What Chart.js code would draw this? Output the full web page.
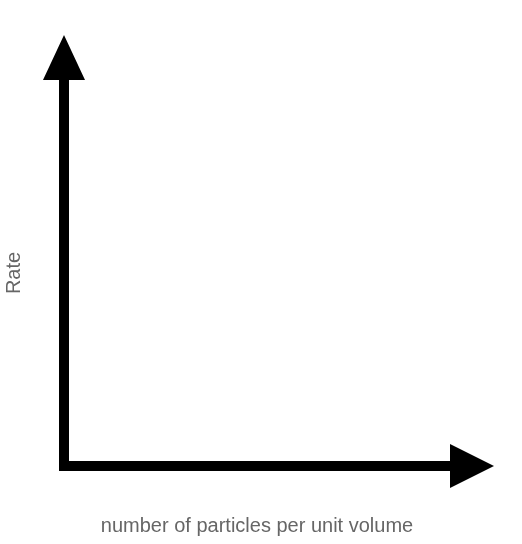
<!DOCTYPE html>
<html>
<head>
<meta charset="utf-8">
<script src="https://cdn.jsdelivr.net/npm/chart.js@4"></script>
<style>
  html, body { margin: 0; padding: 0; background: #fff; }
  #wrap { width: 522px; height: 544px; }
</style>
</head>
<body>
<div id="wrap"><canvas id="chart"></canvas></div>
<script>
// Axis labels and ranges (the chart has no data marks, only the two axes)
const xTitle = 'number of particles per unit volume';
const yTitle = 'Rate';
const xRange = [0, 1];
const yRange = [0, 1];

// Draws the thick axis lines and their arrowheads from the scales
const arrowAxes = {
  id: 'arrowAxes',
  afterDraw(chart) {
    const ctx = chart.ctx;
    const xs = chart.scales.x, ys = chart.scales.y;
    const x0 = xs.getPixelForValue(xRange[0]);
    const x1 = xs.getPixelForValue(xRange[1]);
    const y0 = ys.getPixelForValue(yRange[0]);
    const y1 = ys.getPixelForValue(yRange[1]);
    ctx.save();
    ctx.strokeStyle = '#000';
    ctx.fillStyle = '#000';
    ctx.lineWidth = 10;
    ctx.lineCap = 'square';
    ctx.beginPath();
    ctx.moveTo(x0, y1 + 5);
    ctx.lineTo(x0, y0);
    ctx.lineTo(x1 - 5, y0);
    ctx.stroke();
    // y arrowhead
    ctx.beginPath();
    ctx.moveTo(x0, y1 - 45);
    ctx.lineTo(x0 - 21, y1);
    ctx.lineTo(x0 + 21, y1);
    ctx.closePath();
    ctx.fill();
    // x arrowhead
    ctx.beginPath();
    ctx.moveTo(x1 + 44, y0);
    ctx.lineTo(x1, y0 - 22);
    ctx.lineTo(x1, y0 + 22);
    ctx.closePath();
    ctx.fill();
    ctx.restore();
  }
};

new Chart(document.getElementById('chart').getContext('2d'), {
  type: 'scatter',
  data: { datasets: [{ data: [] }] },
  options: {
    responsive: true,
    maintainAspectRatio: false,
    animation: false,
    layout: { padding: { left: 2, top: 80, right: 72, bottom: 6 } },
    plugins: { legend: { display: false }, tooltip: { enabled: false } },
    scales: {
      x: {
        min: xRange[0], max: xRange[1],
        grid: { display: false }, border: { display: false },
        ticks: { display: false },
        title: {
          display: true, text: xTitle, color: '#666',
          font: { family: 'Liberation Sans', size: 20 },
          padding: { top: 40, bottom: 0 }
        }
      },
      y: {
        min: yRange[0], max: yRange[1],
        grid: { display: false }, border: { display: false },
        ticks: { display: false },
        title: {
          display: true, text: yTitle, color: '#666',
          font: { family: 'Liberation Sans', size: 20 },
          padding: { top: 0, bottom: 30 }
        }
      }
    }
  },
  plugins: [arrowAxes]
});
</script>
</body>
</html>
